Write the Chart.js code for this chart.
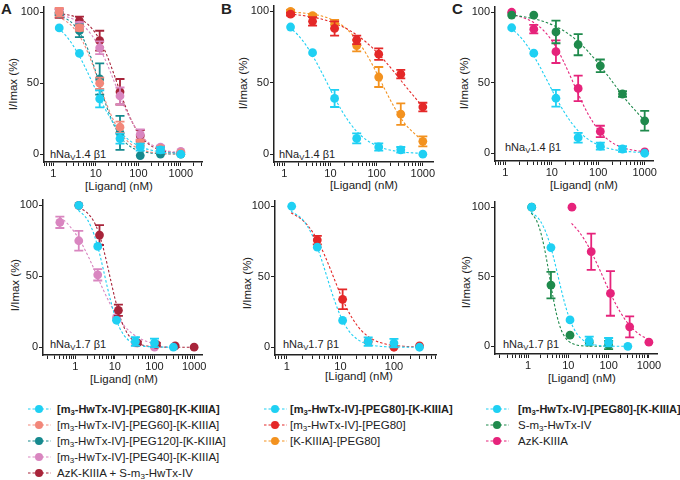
<!DOCTYPE html>
<html>
<head>
<meta charset="utf-8">
<script src="https://cdn.jsdelivr.net/npm/chart.js@4.4.1/dist/chart.umd.min.js"></script>
<style>
  body { margin: 0; width: 680px; height: 480px; background: #fff; position: relative; overflow: hidden;
         font-family: 'Liberation Sans', Arial, sans-serif; color: #222; }
  canvas { position: absolute; }
  .t { position: absolute; white-space: nowrap; font-size: 11.5px; line-height: 1; }
  .yt { transform: translate(-50%, -50%) rotate(-90deg); }
  .xt { transform: translate(-50%, -50%); }
  .lab { transform: translateY(-50%); font-size: 11px; }
  .pl { font-weight: bold; font-size: 15px; }
  sub { font-size: 0.7em; vertical-align: -0.3em; line-height: 0; }
  .leg { position: absolute; font-size: 11.5px; }
  .leg div { height: 16px; display: flex; align-items: center; white-space: nowrap; }
  .leg b { font-size: 11px; }
</style>
</head>
<body>
<div class="t pl" style="left:1px;top:1px">A</div>
<div class="t pl" style="left:221px;top:1px">B</div>
<div class="t pl" style="left:452px;top:1px">C</div>

<div class="t yt" style="left:14px;top:84px">I/Imax (%)</div>
<div class="t yt" style="left:244px;top:83px">I/Imax (%)</div>
<div class="t yt" style="left:465px;top:83px">I/Imax (%)</div>
<div class="t yt" style="left:16px;top:285px">I/Imax (%)</div>
<div class="t yt" style="left:248px;top:283px">I/Imax (%)</div>
<div class="t yt" style="left:467px;top:282px">I/Imax (%)</div>

<div class="t xt" style="left:119px;top:187px">[Ligand] (nM)</div>
<div class="t xt" style="left:364px;top:186px">[Ligand] (nM)</div>
<div class="t xt" style="left:584px;top:186px">[Ligand] (nM)</div>
<div class="t xt" style="left:124px;top:380px">[Ligand] (nM)</div>
<div class="t xt" style="left:359px;top:377px">[Ligand] (nM)</div>
<div class="t xt" style="left:582px;top:379px">[Ligand] (nM)</div>

<div class="t lab" style="left:50px;top:154px">hNa<sub>V</sub>1.4 β1</div>
<div class="t lab" style="left:279px;top:154px">hNa<sub>V</sub>1.4 β1</div>
<div class="t lab" style="left:505px;top:147px">hNa<sub>V</sub>1.4 β1</div>
<div class="t lab" style="left:50px;top:344px">hNa<sub>V</sub>1.7 β1</div>
<div class="t lab" style="left:283px;top:344px">hNa<sub>V</sub>1.7 β1</div>
<div class="t lab" style="left:503px;top:344px">hNa<sub>V</sub>1.7 β1</div>

<canvas id="aTop"></canvas>
<canvas id="bTop"></canvas>
<canvas id="cTop"></canvas>
<canvas id="aBot"></canvas>
<canvas id="bBot"></canvas>
<canvas id="cBot"></canvas>

<div class="leg" id="legA" style="left:28px;top:401px"></div>
<div class="leg" id="legB" style="left:264px;top:401px"></div>
<div class="leg" id="legC" style="left:486px;top:401px"></div>

<script>
// colours
const cCyan = '#1fd0f3', cSalmon = '#f2877a', cTeal = '#16898e', cPink = '#d986c0',
      cMaroon = '#a8243a', cRed = '#e42828', cOrange = '#f3921f', cGreen = '#1f8a4c', cMagenta = '#e6237b';

// tick labels
const yTicks = [0, 50, 100];
const xLabels = [1, 10, 100, 1000];
const xLabelsShort = [1, 10, 100];

// concentrations (nM)
const doseTop = [1.37, 4.1, 12.3, 37, 111, 333, 1000];
const doseBot = [1.23, 3.7, 11, 33, 100, 300];
const fitTopX = [1.3, 2, 3, 5, 8, 12, 18, 27, 40, 60, 100, 150, 250, 400, 1000];
const fitBotX = [1.2, 2, 3, 4, 5, 6.5, 8, 10, 13, 17, 25, 40, 70, 150, 300];

// hNaV1.4 - [m3-HwTx-IV]-[PEG80]-[K-KIIIA] (A, B, C)
const peg80Top = [89, 71, 39, 11, 5, 3, 0];
const peg80TopErr = [0, 0, 6, 3.5, 2.5, 2, 0];
const peg80TopFit = [89.0, 83.3, 76.0, 64.1, 51.4, 40.1, 29.9, 21.3, 14.8, 10.0, 5.9, 3.8, 2.2, 1.3, 0.5];

// A, hNaV1.4
const peg60Top = [100, 89, 50, 19, 8, 4, 1];
const peg60TopErr = [3, 2, 4, 4, 2, 1, 0];
const peg60TopFit = [96.6, 93.6, 88.9, 78.8, 64.7, 50.0, 35.2, 22.9, 14.1, 8.2, 4.0, 2.2, 1.0, 0.5, 0.1];
const peg120Top = [99, 87, 53, 15, -1, 0, 0];
const peg120TopErr = [1, 4.5, 11, 12, 0, 0, 0];
const peg120TopFit = [97.8, 95.5, 91.3, 81.6, 66.6, 50.0, 33.4, 20.2, 11.4, 6.1, 2.6, 1.4, 0.6, 0.3, 0];
const peg40Top = [100, 91, 75, 41, 14, 5, 2];
const peg40TopErr = [2, 2, 4.5, 6, 3.5, 1, 0];
const peg40TopFit = [98.3, 97.0, 95.0, 90.7, 83.9, 75.4, 64.2, 51.2, 38.4, 26.8, 15.7, 9.8, 5.3, 2.9, 0.9];
const mixTop = [99, 94, 80, 44, 13, 4, 1];
const mixTopErr = [3, 3, 7, 9, 4, 1, 0];
const mixTopFit = [99.2, 98.4, 97.2, 94.1, 88.7, 81.1, 70.0, 55.9, 41.3, 27.7, 15.1, 8.8, 4.3, 2.2, 0.6];

// B, hNaV1.4
const hwPegTop = [98, 93, 88, 80, 70, 56, 33];
const hwPegTopErr = [1, 3, 5, 3, 4, 3, 3];
const hwPegTopFit = [98.2, 97.5, 96.7, 95.4, 93.7, 91.8, 89.4, 86.3, 82.7, 78.2, 71.5, 65.3, 56.8, 48.5, 33.0];
const kPegTop = [100, 97, 91, 76, 54, 28, 9];
const kPegTopErr = [1, 1, 3, 4, 7, 7.5, 3.5];
const kPegTopFit = [99.4, 99.1, 98.6, 97.5, 95.8, 93.5, 90.1, 85.2, 78.7, 70.1, 56.9, 45.5, 32.0, 21.7, 9.1];

// C, hNaV1.4
const hwTop = [98, 98, 86, 77, 62, 42, 23];
const hwTopErr = [0, 0, 8, 7.5, 4.5, 2, 7];
const hwTopFit = [98.0, 97.3, 96.3, 94.7, 92.5, 90.0, 86.9, 82.9, 78.1, 72.3, 63.8, 56.3, 46.6, 37.7, 23.0];
const azkTopX = [1.37, 4.1, 12.3, 37, 111, 1000];
const azkTop = [100, 88, 72, 46, 15.5, 1];
const azkTopErr = [0, 3, 8, 9, 4, 0];
const azkTopFit = [98.3, 97.0, 95.0, 90.7, 84.2, 75.9, 65.0, 52.3, 39.7, 28.0, 16.7, 10.6, 5.7, 3.2, 1.0];

// hNaV1.7 - [m3-HwTx-IV]-[PEG80]-[K-KIIIA]
const peg80Bot = [100, 71, 19, 4, 3, 0];
const peg80BotErr = [0, 0, 0, 3, 3, 0];
const peg80BotFit = [96.5, 90.2, 79.3, 67.3, 56.0, 42.0, 31.7, 22.3, 14.0, 8.4, 3.8, 1.4, 0.4, 0.1, 0];

// A, hNaV1.7
const peg40BotX = [0.41, 1.23, 3.7, 11, 33, 100];
const peg40Bot = [88, 75, 51, 21, 3, 0];
const peg40BotErr = [4, 7, 4, 0, 0, 0];
const peg40FitX = [0.41, 0.6, 1, 1.5, 2.2, 3.3, 5, 7.5, 11, 17, 25, 40, 70, 100];
const peg40BotFit = [91.6, 87.8, 80.3, 72.4, 63.2, 52.4, 41.0, 30.8, 22.6, 15.4, 10.6, 6.6, 3.7, 2.5];
const mixBotX = [1.23, 4.1, 12.3, 37, 111, 333, 1000];
const mixBot = [100, 79, 26, 3, 2, 1, 0];
const mixBotErr = [0, 7, 4, 1, 1, 0, 0];
const mixFitX = [1.2, 2, 3, 4, 5, 6.5, 8, 10, 13, 17, 25, 40, 70, 150, 300, 1000];
const mixBotFit = [98.3, 94.8, 88.2, 79.9, 70.8, 57.6, 46.3, 34.6, 22.9, 14.1, 6.6, 2.4, 0.7, 0.1, 0, 0];

// B, hNaV1.7
const hwPegBotX = [3.7, 11, 33, 100, 300];
const hwPegBot = [76, 34, 4, 0, 1];
const hwPegBotErr = [3, 7, 0, 0, 0];
const hwPegBotFit = [95.4, 89.9, 81.9, 73.6, 65.8, 55.4, 46.7, 37.6, 28.1, 20.0, 11.6, 5.6, 2.3, 0.7, 0.2];

// C, hNaV1.7
const hwBotX = [1.23, 3.7, 11, 33, 100];
const hwBot = [100, 44, 8, 3, 1];
const hwBotErr = [0, 9.5, 0, 0, 3];
const hwFitX = [1.2, 1.6, 2, 2.5, 3, 3.5, 4, 5, 6.5, 8, 10, 13, 17, 25, 40, 100];
const hwBotFit = [95.8, 90.7, 83.2, 71.7, 59.6, 48.1, 38.3, 24.1, 12.6, 7.2, 3.8, 1.8, 0.8, 0.3, 0.1, 0];
const azkBotX = [12.3, 37, 111, 333, 1000];
const azkBot = [100, 68, 38, 14, 3];
const azkBotErr = [0, 13, 16, 7.5, 0];
const azkFitX = [12, 18, 27, 40, 60, 100, 150, 250, 400, 650, 1000];
const azkBotFit = [88.3, 82.7, 75.2, 66.0, 55.1, 40.8, 30.4, 19.7, 12.6, 7.7, 4.9];

Chart.defaults.font.family = "'Liberation Sans', Arial, sans-serif";
Chart.defaults.font.size = 11;
Chart.defaults.color = '#222';

const errorBars = {
  id: 'errorBars',
  afterDatasetDraw(chart, args) {
    const ds = chart.data.datasets[args.index];
    if (!ds.err) return;
    const ctx = chart.ctx, sx = chart.scales.x, sy = chart.scales.y;
    ctx.save();
    ctx.strokeStyle = ds.borderColor;
    ctx.lineWidth = 1.8;
    ds.data.forEach((p, i) => {
      const e = ds.err[i];
      if (!e) return;
      const x = sx.getPixelForValue(p.x);
      const y1 = sy.getPixelForValue(p.y + e), y2 = sy.getPixelForValue(p.y - e);
      ctx.beginPath();
      ctx.moveTo(x, y1); ctx.lineTo(x, y2);
      ctx.moveTo(x - 4.5, y1); ctx.lineTo(x + 4.5, y1);
      ctx.moveTo(x - 4.5, y2); ctx.lineTo(x + 4.5, y2);
      ctx.stroke();
    });
    ctx.restore();
  }
};

function fit(xs, ys, color) {
  return { data: xs.map((x, i) => ({ x, y: ys[i] })), borderColor: color, borderWidth: 1.1,
           borderDash: [2.5, 2], pointRadius: 0, cubicInterpolationMode: 'monotone', order: 2 };
}
function pts(xs, ys, err, color) {
  return { data: xs.map((x, i) => ({ x, y: ys[i] })), showLine: false, pointRadius: 4.4,
           pointBackgroundColor: color, pointBorderWidth: 0, borderColor: color, err, order: 1 };
}

const Y_W = 36, X_H = 24, PAD_T = 6, PAD_R = 14;

function panel(id, area, xMin, xMax, labels, datasets) {
  const cv = document.getElementById(id);
  const W = area.r - area.l + Y_W + PAD_R, H = area.b - area.t + PAD_T + X_H;
  cv.style.left = (area.l - Y_W) + 'px';
  cv.style.top = (area.t - PAD_T) + 'px';
  cv.width = W; cv.height = H;
  new Chart(cv, {
    type: 'line',
    data: { datasets },
    options: {
      responsive: false,
      animation: false,
      layout: { padding: { top: PAD_T, right: PAD_R, left: 0, bottom: 0 } },
      plugins: { legend: { display: false }, tooltip: { enabled: false } },
      scales: {
        x: {
          type: 'logarithmic', min: xMin, max: xMax,
          afterFit: s => { s.height = X_H; },
          afterBuildTicks: s => {
            const t = [];
            for (let e = -1; e <= 3; e++) {
              for (let m = 1; m <= 9; m++) {
                const v = m * Math.pow(10, e);
                if (v >= s.min && v <= s.max) t.push({ value: v });
              }
            }
            s.ticks = t;
          },
          ticks: { autoSkip: false, maxRotation: 0, padding: 1,
                   callback: v => labels.includes(v) ? String(v) : '' },
          grid: { drawOnChartArea: false, tickLength: 4, color: '#222' },
          border: { color: '#222', width: 1.5 }
        },
        y: {
          min: -5.5, max: 104,
          afterFit: s => { s.width = Y_W; },
          afterBuildTicks: s => { s.ticks = yTicks.map(v => ({ value: v })); },
          ticks: { padding: 1 },
          grid: { drawOnChartArea: false, tickLength: 4, color: '#222' },
          border: { color: '#222', width: 1.5 }
        }
      }
    },
    plugins: [errorBars]
  });
}

panel('aTop', { l: 44, t: 5, r: 202, b: 162 }, 0.6, 3160, xLabels, [
  pts(doseTop, peg80Top, peg80TopErr, cCyan),
  pts(doseTop, peg60Top, peg60TopErr, cSalmon),
  pts(doseTop, peg120Top, peg120TopErr, cTeal),
  pts(doseTop, peg40Top, peg40TopErr, cPink),
  pts(doseTop, mixTop, mixTopErr, cMaroon),
  fit(fitTopX, peg80TopFit, cCyan),
  fit(fitTopX, peg60TopFit, cSalmon),
  fit(fitTopX, peg120TopFit, cTeal),
  fit(fitTopX, peg40TopFit, cPink),
  fit(fitTopX, mixTopFit, cMaroon)
]);

panel('bTop', { l: 274, t: 4, r: 433, b: 162 }, 0.64, 1660, xLabels, [
  pts(doseTop, peg80Top, peg80TopErr, cCyan),
  pts(doseTop, hwPegTop, hwPegTopErr, cRed),
  pts(doseTop, kPegTop, kPegTopErr, cOrange),
  fit(fitTopX, peg80TopFit, cCyan),
  fit(fitTopX, hwPegTopFit, cRed),
  fit(fitTopX, kPegTopFit, cOrange)
]);

panel('cTop', { l: 495, t: 5, r: 653, b: 161 }, 0.62, 1510, xLabels, [
  pts(doseTop, peg80Top, peg80TopErr, cCyan),
  pts(doseTop, hwTop, hwTopErr, cGreen),
  pts(azkTopX, azkTop, azkTopErr, cMagenta),
  fit(fitTopX, peg80TopFit, cCyan),
  fit(fitTopX, hwTopFit, cGreen),
  fit(fitTopX, azkTopFit, cMagenta)
]);

panel('aBot', { l: 43, t: 198, r: 202, b: 355 }, 0.154, 1580, xLabels, [
  pts(doseBot, peg80Bot, peg80BotErr, cCyan),
  pts(mixBotX, mixBot, mixBotErr, cMaroon),
  pts(peg40BotX, peg40Bot, peg40BotErr, cPink),
  fit(fitBotX, peg80BotFit, cCyan),
  fit(mixFitX, mixBotFit, cMaroon),
  fit(peg40FitX, peg40BotFit, cPink)
]);

panel('bBot', { l: 275, t: 199, r: 436, b: 355 }, 0.62, 610, xLabelsShort, [
  pts(doseBot, peg80Bot, peg80BotErr, cCyan),
  pts(hwPegBotX, hwPegBot, hwPegBotErr, cRed),
  fit(fitBotX, peg80BotFit, cCyan),
  fit(fitBotX, hwPegBotFit, cRed)
]);

panel('cBot', { l: 495, t: 200, r: 657, b: 354 }, 0.151, 1590, xLabels, [
  pts(doseBot, peg80Bot, peg80BotErr, cCyan),
  pts(hwBotX, hwBot, hwBotErr, cGreen),
  pts(azkBotX, azkBot, azkBotErr, cMagenta),
  fit(fitBotX, peg80BotFit, cCyan),
  fit(hwFitX, hwBotFit, cGreen),
  fit(azkFitX, azkBotFit, cMagenta)
]);

// legends
const legA = [
  ['<b>[m<sub>3</sub>-HwTx-IV]-[PEG80]-[K-KIIIA]</b>', cCyan],
  ['[m<sub>3</sub>-HwTx-IV]-[PEG60]-[K-KIIIA]', cSalmon],
  ['[m<sub>3</sub>-HwTx-IV]-[PEG120]-[K-KIIIA]', cTeal],
  ['[m<sub>3</sub>-HwTx-IV]-[PEG40]-[K-KIIIA]', cPink],
  ['AzK-KIIIA + S-m<sub>3</sub>-HwTx-IV', cMaroon]
];
const legB = [
  ['<b>[m<sub>3</sub>-HwTx-IV]-[PEG80]-[K-KIIIA]</b>', cCyan],
  ['[m<sub>3</sub>-HwTx-IV]-[PEG80]', cRed],
  ['[K-KIIIA]-[PEG80]', cOrange]
];
const legC = [
  ['<b>[m<sub>3</sub>-HwTx-IV]-[PEG80]-[K-KIIIA]</b>', cCyan],
  ['S-m<sub>3</sub>-HwTx-IV', cGreen],
  ['AzK-KIIIA', cMagenta]
];

function legend(id, items, gap) {
  document.getElementById(id).innerHTML = items.map(([txt, col]) =>
    `<div><svg width="23" height="12" style="flex:none"><line x1="0" y1="6" x2="23" y2="6" stroke="${col}" stroke-width="1.1" stroke-dasharray="2.5 2"/>` +
    `<circle cx="11" cy="6" r="4" fill="${col}"/></svg><span style="margin-left:${gap}px">${txt}</span></div>`).join('');
}
legend('legA', legA, 6);
legend('legB', legB, 3);
legend('legC', legC, 9);
</script>
</body>
</html>
